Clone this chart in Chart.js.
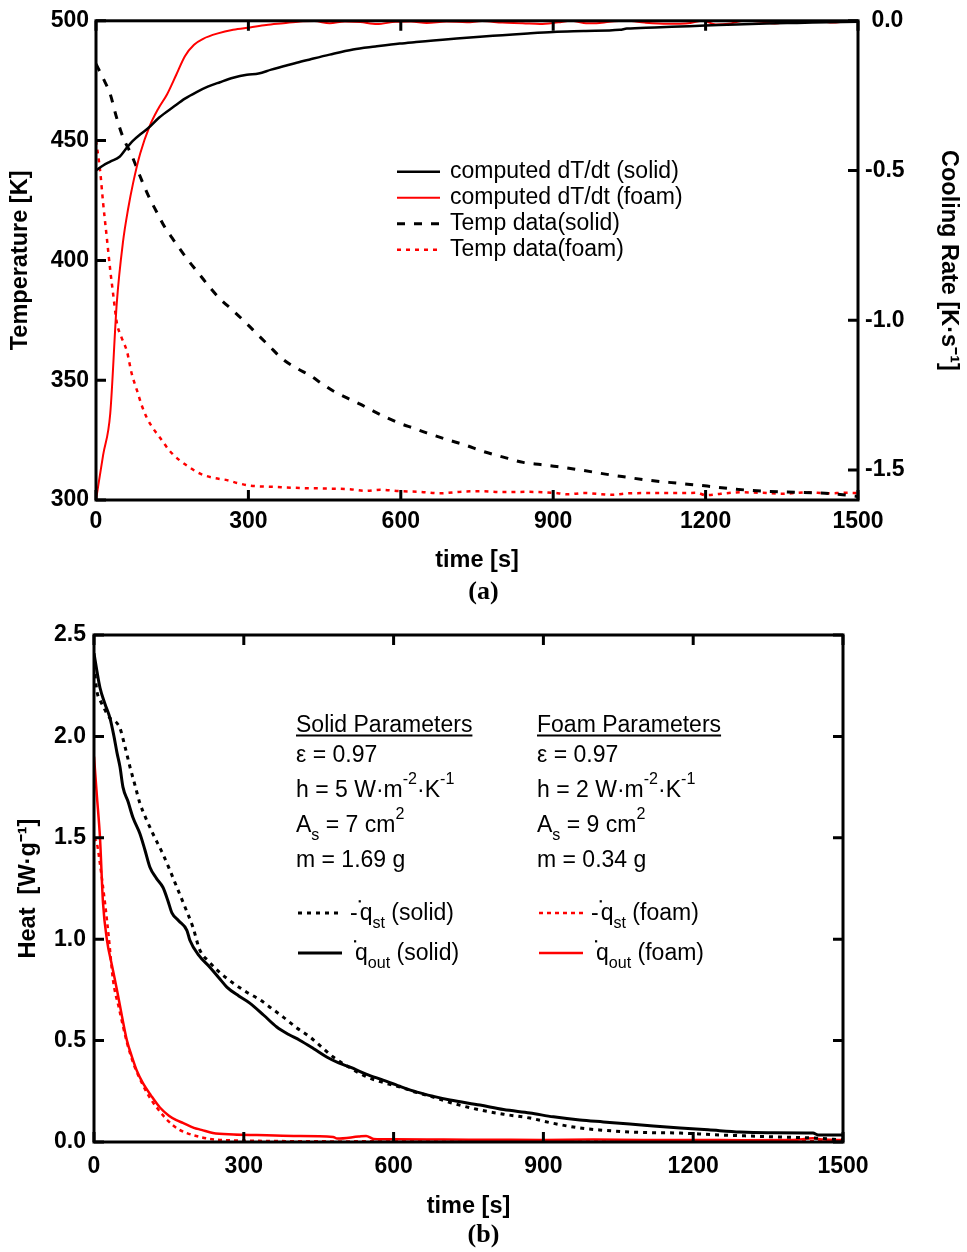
<!DOCTYPE html>
<html>
<head>
<meta charset="utf-8">
<title>Cooling of solid and foam samples</title>
<script src="https://cdn.jsdelivr.net/npm/chart.js@4.4.1/dist/chart.umd.min.js"></script>
<style>
  html, body { margin: 0; padding: 0; background: #fff; }
  #boxA { position: absolute; left: 0; top: 0; width: 967px; height: 612px; }
  #boxB { position: absolute; left: 0; top: 611px; width: 967px; height: 641px; }
</style>
</head>
<body>
<div id="boxA"><canvas id="chartA"></canvas></div>
<div id="boxB"><canvas id="chartB"></canvas></div>
<script>
// tick values
const timeTicks = [0, 300, 600, 900, 1200, 1500];
const tempTicks = [300, 350, 400, 450, 500];
const rateTicks = [0, -0.5, -1.0, -1.5];
const heatTicks = [0, 0.5, 1.0, 1.5, 2.0, 2.5];

// (a) computed cooling rate, solid  [K/s]
const rateSolidT = [0, 14, 28, 47, 60, 73, 88, 103, 125, 152, 175, 198, 220, 244, 270, 297, 320, 345, 369, 395, 421, 460, 506, 550, 598, 630, 664, 710, 756, 800, 850, 900, 960, 1031, 1045, 1100, 1150, 1200, 1260, 1320, 1380, 1440, 1500];
const rateSolid = [-0.50, -0.483, -0.47, -0.453, -0.425, -0.40, -0.378, -0.358, -0.322, -0.288, -0.26, -0.238, -0.22, -0.205, -0.19, -0.18, -0.176, -0.163, -0.152, -0.14, -0.129, -0.113, -0.096, -0.086, -0.076, -0.071, -0.066, -0.059, -0.053, -0.048, -0.042, -0.037, -0.034, -0.030, -0.026, -0.022, -0.019, -0.016, -0.012, -0.009, -0.007, -0.005, -0.003];

// (a) computed cooling rate, foam
const rateFoamT = [0, 14, 28, 41, 53, 63, 73, 87, 106, 122, 140, 158, 175, 193, 211, 240, 270, 303, 335, 369, 402, 430, 460, 490, 520, 553, 590, 620, 651, 690, 730, 760, 800, 840, 874, 910, 935, 960, 985, 1010, 1045, 1080, 1125, 1170, 1195, 1220, 1245, 1275, 1310, 1336, 1365, 1400, 1430, 1450, 1475, 1500];
const rateFoam = [-1.60, -1.45, -1.312, -0.94, -0.74, -0.63, -0.542, -0.443, -0.35, -0.295, -0.245, -0.18, -0.118, -0.08, -0.06, -0.042, -0.03, -0.022, -0.014, -0.008, -0.002, -0.001, -0.008, -0.002, -0.004, -0.011, -0.003, -0.002, -0.007, -0.002, -0.005, -0.001, -0.006, -0.008, -0.011, -0.005, 0, -0.007, -0.008, -0.003, 0, -0.006, -0.010, -0.007, 0, -0.012, -0.010, 0, -0.003, -0.009, -0.002, 0, -0.002, -0.006, -0.002, 0];

// (a) measured temperature, solid [K]
const tempSolidT = [0, 14, 28, 40, 53, 70, 87, 103, 120, 135, 152, 178, 205, 225, 244, 270, 290, 309, 340, 368, 395, 421, 445, 467, 495, 520, 547, 573, 598, 625, 651, 690, 730, 756, 800, 841, 875, 907, 960, 1006, 1045, 1085, 1145, 1203, 1260, 1313, 1360, 1411, 1450, 1478, 1500];
const tempSolid = [482, 476, 469.4, 460, 451.5, 444, 435, 427, 420, 414, 408.7, 401, 393.8, 388.5, 384, 379, 375, 371, 364.5, 358.7, 355, 352, 348.5, 345.5, 342.5, 340, 337, 334.3, 332, 330, 328, 325.3, 322.7, 320.7, 318, 315.7, 314.8, 314, 312.3, 310.7, 309.5, 308.3, 307, 305.8, 304.5, 303.7, 303.3, 303, 302.6, 302, 301.5];

// (a) measured temperature, foam
const tempFoamT = [0, 8, 14, 21, 28, 34, 41, 50, 61, 70, 81, 90, 100, 112, 126, 145, 165, 185, 205, 230, 258, 280, 303, 350, 402, 450, 500, 530, 560, 598, 640, 677, 720, 756, 800, 850, 900, 930, 960, 1018, 1050, 1100, 1150, 1183, 1200, 1230, 1270, 1313, 1350, 1400, 1440, 1478, 1500];
const tempFoam = [450, 437.6, 424, 410, 396, 385.5, 374, 368, 362, 353, 345.5, 339.5, 334.3, 330, 326, 320.5, 316.5, 313.5, 311, 309.3, 308.3, 307, 306, 305.5, 305, 304.8, 304.5, 303.8, 304.3, 303.7, 303.4, 302.8, 303.5, 303.7, 303.3, 303.4, 303, 302.4, 302.9, 302.2, 302.8, 302.9, 302.9, 303, 302, 302.6, 303.2, 303, 302.6, 303.2, 302.8, 303, 302.9];

// (b) -q_st solid [W/g]
const qstSolidT = [0, 6, 12, 20, 32, 40, 52, 62, 72, 82, 92, 105, 118, 138, 152, 166, 182, 198, 212, 230, 250, 279, 305, 333, 355, 379, 405, 433, 455, 479, 510, 547, 580, 613, 645, 679, 720, 773, 820, 873, 920, 973, 1020, 1073, 1120, 1174, 1240, 1307, 1380, 1440, 1500];
const qstSolid = [2.35, 2.22, 2.18, 2.14, 2.09, 2.08, 2.04, 1.95, 1.85, 1.76, 1.67, 1.59, 1.52, 1.42, 1.34, 1.256, 1.16, 1.06, 0.946, 0.89, 0.84, 0.783, 0.74, 0.70, 0.66, 0.616, 0.565, 0.517, 0.47, 0.419, 0.37, 0.32, 0.293, 0.271, 0.245, 0.222, 0.19, 0.158, 0.137, 0.118, 0.092, 0.069, 0.058, 0.049, 0.046, 0.044, 0.036, 0.030, 0.024, 0.020, 0.010];

// (b) q_out solid
const qoutSolidT = [0, 6, 12, 22, 32, 40, 46, 52, 58, 68, 78, 92, 102, 112, 125, 138, 148, 156, 170, 186, 192, 210, 232, 250, 266, 290, 312, 340, 366, 390, 412, 440, 466, 490, 513, 545, 579, 612, 647, 680, 713, 773, 820, 873, 920, 973, 1020, 1073, 1120, 1174, 1230, 1294, 1350, 1440, 1450, 1500];
const qoutSolid = [2.41, 2.32, 2.24, 2.16, 2.09, 2.0, 1.92, 1.85, 1.75, 1.68, 1.60, 1.52, 1.44, 1.355, 1.30, 1.256, 1.19, 1.13, 1.09, 1.044, 0.995, 0.92, 0.862, 0.81, 0.764, 0.72, 0.685, 0.625, 0.567, 0.53, 0.502, 0.46, 0.419, 0.39, 0.369, 0.335, 0.305, 0.275, 0.246, 0.225, 0.207, 0.182, 0.16, 0.143, 0.124, 0.108, 0.099, 0.089, 0.079, 0.069, 0.06, 0.049, 0.046, 0.044, 0.035, 0.034];

// (b) -q_st foam
const qstFoamT = [0, 6, 12, 22, 30, 38, 50, 66, 80, 98, 114, 132, 150, 168, 186, 212, 243, 300, 400, 500, 600, 700, 800, 900, 1000, 1100, 1200, 1300, 1400, 1500];
const qstFoam = [1.50, 1.47, 1.37, 1.18, 1.0, 0.80, 0.66, 0.49, 0.38, 0.28, 0.21, 0.15, 0.10, 0.065, 0.044, 0.025, 0.012, 0.007, 0.004, 0.003, 0.004, 0.003, 0.005, 0.004, 0.006, 0.004, 0.005, 0.005, 0.004, 0.005];

// (b) q_out foam
const qoutFoamT = [0, 6, 12, 18, 26, 36, 46, 56, 66, 76, 86, 98, 114, 132, 150, 165, 178, 200, 215, 238, 280, 326, 400, 479, 487, 530, 545, 560, 600, 700, 800, 900, 1000, 1100, 1200, 1300, 1400, 1440, 1460, 1500];
const qoutFoam = [1.90, 1.70, 1.50, 1.18, 0.995, 0.87, 0.75, 0.62, 0.50, 0.42, 0.35, 0.29, 0.23, 0.17, 0.13, 0.108, 0.094, 0.07, 0.06, 0.044, 0.037, 0.034, 0.03, 0.025, 0.017, 0.027, 0.03, 0.015, 0.013, 0.012, 0.011, 0.010, 0.012, 0.010, 0.010, 0.009, 0.010, 0.018, 0.012, 0.010];

const FONT = '"Liberation Sans", Arial, Helvetica, sans-serif';
const SERIF = '"Liberation Serif", "Times New Roman", serif';
Chart.defaults.font.family = FONT;
Chart.defaults.color = '#000';

const pts = (xs, ys) => xs.map((x, i) => ({ x: x, y: ys[i] }));
const fixTicks = vals => s => { s.ticks = vals.map(v => ({ value: v })); };

// box round the plot with ticks pointing inwards
const framePlugin = {
  id: 'frame',
  afterDatasetsDraw(chart) {
    const { ctx, chartArea: a, scales } = chart;
    const len = 10;
    ctx.save();
    ctx.strokeStyle = '#000';
    ctx.lineWidth = 3;
    ctx.strokeRect(a.left, a.top, a.right - a.left, a.bottom - a.top);
    ctx.beginPath();
    scales.x.ticks.forEach(t => {
      const px = scales.x.getPixelForValue(t.value);
      ctx.moveTo(px, a.bottom); ctx.lineTo(px, a.bottom - len);
      ctx.moveTo(px, a.top); ctx.lineTo(px, a.top + len);
    });
    scales.y.ticks.forEach(t => {
      const py = scales.y.getPixelForValue(t.value);
      ctx.moveTo(a.left, py); ctx.lineTo(a.left + len, py);
    });
    const r = scales.y2 || scales.y;
    r.ticks.forEach(t => {
      const py = r.getPixelForValue(t.value);
      ctx.moveTo(a.right, py); ctx.lineTo(a.right - len, py);
    });
    ctx.stroke();
    ctx.restore();
  }
};

// legend inside plot (a)
const legendA = {
  id: 'legendA',
  afterDraw(chart) {
    const { ctx, chartArea: a } = chart;
    ctx.save();
    ctx.font = '23px ' + FONT;
    ctx.textBaseline = 'middle';
    ctx.fillStyle = '#000';
    chart.data.datasets.forEach((ds, i) => {
      const y = a.top + 151 + i * 26;
      const x0 = a.left + 301;
      ctx.beginPath();
      ctx.setLineDash(ds.borderDash || []);
      ctx.strokeStyle = ds.borderColor;
      ctx.lineWidth = ds.borderWidth;
      ctx.moveTo(x0, y); ctx.lineTo(x0 + 43, y);
      ctx.stroke();
      ctx.setLineDash([]);
      ctx.fillText(ds.label, x0 + 53, y);
    });
    ctx.restore();
  }
};

function drawRich(ctx, x, y, parts, size) {
  parts.forEach(p => {
    const small = p.sup || p.sub;
    ctx.font = (small ? size * 0.7 : size) + 'px ' + FONT;
    const dy = p.sup ? -size * 0.58 : (p.sub ? size * 0.35 : 0);
    ctx.fillText(p.t, x, y + dy);
    if (p.dot) ctx.fillRect(x - 1, y - size * 0.86, 2.2, 2.2);
    x += ctx.measureText(p.t).width + (p.gap || 0);
  });
  return x;
}

// parameter blocks of (b)
const paramCols = [
  { head: 'Solid Parameters', rows: [
    [{ t: 'ε = 0.97' }],
    [{ t: 'h = 5 W·m' }, { t: '-2', sup: 1 }, { t: '·K' }, { t: '-1', sup: 1 }],
    [{ t: 'A' }, { t: 's', sub: 1 }, { t: ' = 7 cm' }, { t: '2', sup: 1 }],
    [{ t: 'm = 1.69 g' }]
  ] },
  { head: 'Foam Parameters', rows: [
    [{ t: 'ε = 0.97' }],
    [{ t: 'h = 2 W·m' }, { t: '-2', sup: 1 }, { t: '·K' }, { t: '-1', sup: 1 }],
    [{ t: 'A' }, { t: 's', sub: 1 }, { t: ' = 9 cm' }, { t: '2', sup: 1 }],
    [{ t: 'm = 0.34 g' }]
  ] }
];
const legendLabelsB = [
  [{ t: '-', gap: 2 }, { t: 'q', dot: 1 }, { t: 'st', sub: 1 }, { t: ' (solid)' }],
  [{ t: 'q', dot: 1 }, { t: 'out', sub: 1 }, { t: ' (solid)' }],
  [{ t: '-', gap: 2 }, { t: 'q', dot: 1 }, { t: 'st', sub: 1 }, { t: ' (foam)' }],
  [{ t: 'q', dot: 1 }, { t: 'out', sub: 1 }, { t: ' (foam)' }]
];

const notesB = {
  id: 'notesB',
  afterDraw(chart) {
    const { ctx, chartArea: a } = chart;
    const size = 23;
    const colX = [a.left + 202, a.left + 443];
    const rowY = [127, 162, 197, 232];
    ctx.save();
    ctx.fillStyle = '#000';
    ctx.textBaseline = 'alphabetic';
    paramCols.forEach((col, c) => {
      ctx.font = size + 'px ' + FONT;
      ctx.fillText(col.head, colX[c], a.top + 97);
      const w = ctx.measureText(col.head).width;
      ctx.fillRect(colX[c], a.top + 99.5, w, 2);
      col.rows.forEach((parts, r) => drawRich(ctx, colX[c], a.top + rowY[r], parts, size));
    });
    chart.data.datasets.forEach((ds, i) => {
      const c = i < 2 ? 0 : 1;
      const base = a.top + (i % 2 === 0 ? 285 : 325);
      const x0 = colX[c] + 2;
      ctx.beginPath();
      ctx.setLineDash(ds.borderDash || []);
      ctx.strokeStyle = ds.borderColor;
      ctx.lineWidth = ds.borderWidth;
      ctx.moveTo(x0, base - 7); ctx.lineTo(x0 + 44, base - 7);
      ctx.stroke();
      ctx.setLineDash([]);
      drawRich(ctx, x0 + 44 + (i % 2 === 0 ? 8 : 13), base, legendLabelsB[i], size);
    });
    ctx.restore();
  }
};

const tickFont = { size: 23, weight: 'bold' };
const titleFont = { size: 23.5, weight: 'bold' };
const noGrid = { display: false, drawTicks: false };
const plain = v => String(v);

// ---------- chart (a) ----------
new Chart(document.getElementById('chartA'), {
  type: 'line',
  data: {
    datasets: [
      { label: 'computed dT/dt (solid)', data: pts(rateSolidT, rateSolid), yAxisID: 'y2',
        borderColor: '#000000', borderWidth: 2.5 },
      { label: 'computed dT/dt (foam)', data: pts(rateFoamT, rateFoam), yAxisID: 'y2',
        borderColor: '#ff0000', borderWidth: 2 },
      { label: 'Temp data(solid)', data: pts(tempSolidT, tempSolid), yAxisID: 'y',
        borderColor: '#000000', borderWidth: 3, borderDash: [8, 9] },
      { label: 'Temp data(foam)', data: pts(tempFoamT, tempFoam), yAxisID: 'y',
        borderColor: '#ff0000', borderWidth: 2.5, borderDash: [4, 5] }
    ]
  },
  options: {
    responsive: true,
    maintainAspectRatio: false,
    animation: false,
    events: [],
    layout: { padding: { top: 16, right: 0, bottom: 0, left: 0 } },
    elements: { point: { radius: 0 }, line: { cubicInterpolationMode: 'monotone', fill: false } },
    scales: {
      x: {
        type: 'linear', min: 0, max: 1500,
        afterBuildTicks: fixTicks(timeTicks),
        afterFit: s => { s.height = 74.5; },
        grid: noGrid, border: { display: false },
        ticks: { font: tickFont, padding: 7.6, maxRotation: 0, autoSkip: false, callback: plain },
        title: { display: true, text: 'time [s]', font: titleFont, padding: { top: 0, bottom: 0 } }
      },
      y: {
        type: 'linear', position: 'left', min: 300, max: 500,
        afterBuildTicks: fixTicks(tempTicks),
        afterFit: s => { s.width = 96; },
        grid: noGrid, border: { display: false },
        ticks: { font: tickFont, padding: 7, callback: plain },
        title: { display: true, text: 'Temperature [K]', font: titleFont, padding: { top: 6.1, bottom: 0 } }
      },
      y2: {
        type: 'linear', position: 'right', min: -1.6, max: 0,
        afterBuildTicks: fixTicks(rateTicks),
        afterFit: s => { s.width = 109; },
        grid: noGrid, border: { display: false },
        // a leading space keeps "0.0" lined up on the right with "-0.5"
        ticks: { font: tickFont, padding: 7, callback: v => (v < 0 ? '' : ' ') + Number(v).toFixed(1) },
        title: { display: true, text: 'Cooling Rate [K·s⁻¹]', font: titleFont, padding: { top: 4.1, bottom: 0 } }
      }
    },
    plugins: {
      legend: { display: false },
      tooltip: { enabled: false },
      title: {
        display: true, position: 'bottom', text: '(a)',
        font: { family: SERIF, size: 26, weight: 'bold', lineHeight: 1 },
        padding: { top: 4.5, bottom: 7 }
      }
    }
  },
  plugins: [framePlugin, legendA]
});

// ---------- chart (b) ----------
new Chart(document.getElementById('chartB'), {
  type: 'line',
  data: {
    datasets: [
      { label: '-q_st (solid)', data: pts(qstSolidT, qstSolid),
        borderColor: '#000000', borderWidth: 3, borderDash: [4, 5] },
      { label: 'q_out (solid)', data: pts(qoutSolidT, qoutSolid),
        borderColor: '#000000', borderWidth: 3 },
      { label: '-q_st (foam)', data: pts(qstFoamT, qstFoam),
        borderColor: '#ff0000', borderWidth: 2.5, borderDash: [4, 4] },
      { label: 'q_out (foam)', data: pts(qoutFoamT, qoutFoam),
        borderColor: '#ff0000', borderWidth: 2.5 }
    ]
  },
  options: {
    responsive: true,
    maintainAspectRatio: false,
    animation: false,
    events: [],
    layout: { padding: { top: 24, right: 0, bottom: 0, left: 0 } },
    elements: { point: { radius: 0 }, line: { cubicInterpolationMode: 'monotone', fill: false } },
    scales: {
      x: {
        type: 'linear', min: 0, max: 1500,
        afterBuildTicks: fixTicks(timeTicks),
        afterFit: s => { s.height = 78.5; },
        grid: noGrid, border: { display: false },
        ticks: { font: tickFont, padding: 10.6, maxRotation: 0, autoSkip: false, callback: plain },
        title: { display: true, text: 'time [s]', font: titleFont, padding: { top: 0, bottom: 0 } }
      },
      y: {
        type: 'linear', position: 'left', min: 0, max: 2.5,
        afterBuildTicks: fixTicks(heatTicks),
        afterFit: s => { s.width = 94; },
        grid: noGrid, border: { display: false },
        ticks: { font: tickFont, padding: 8, callback: v => Number(v).toFixed(1) },
        title: { display: true, text: 'Heat  [W·g⁻¹]', font: titleFont, padding: { top: 14.1, bottom: 0 } }
      },
      // unlabeled right axis: only ticks on the frame
      y2: {
        type: 'linear', position: 'right', min: 0, max: 2.5,
        afterBuildTicks: fixTicks(heatTicks),
        afterFit: s => { s.width = 124; },
        grid: noGrid, border: { display: false },
        ticks: { display: false }
      }
    },
    plugins: {
      legend: { display: false },
      tooltip: { enabled: false },
      title: {
        display: true, position: 'bottom', text: '(b)',
        font: { family: SERIF, size: 26, weight: 'bold', lineHeight: 1 },
        padding: { top: 1.5, bottom: 4 }
      }
    }
  },
  plugins: [framePlugin, notesB]
});
</script>
</body>
</html>
